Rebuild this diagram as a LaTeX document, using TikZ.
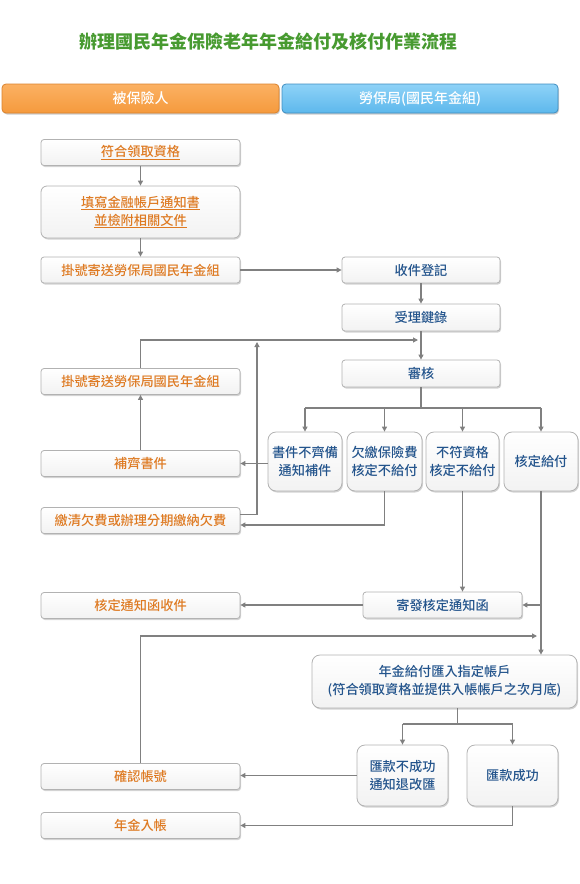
\documentclass[tikz,border=0pt]{standalone}
\usepackage{fontspec}
\setmainfont{Noto Sans CJK TC}
\newfontfamily\medfont{Noto Sans CJK TC Medium}
\usetikzlibrary{arrows.meta,shadows,calc}
\definecolor{otxt}{HTML}{DE7A22}
\definecolor{btxt}{HTML}{23548C}
\definecolor{lgray}{HTML}{808080}
\definecolor{tgreen}{HTML}{479A30}
\definecolor{hotop}{HTML}{FBB163}
\definecolor{hobot}{HTML}{F59A3D}
\definecolor{hoedge}{HTML}{D9822E}
\definecolor{hbtop}{HTML}{8ED2F7}
\definecolor{hbbot}{HTML}{5DB8EC}
\definecolor{hbedge}{HTML}{3F8DC0}
\tikzset{
 box/.style={draw=black!30, line width=0.8pt, rounded corners=3pt, top color=white, bottom color=black!5,
   drop shadow={shadow xshift=1pt, shadow yshift=-1.5pt, opacity=0.35},
   inner sep=0pt, font=\medfont\fontsize{13.2}{18}\selectfont, align=center},
 lbox/.style={box, text=otxt, minimum width=199pt, minimum height=26pt},
 rbox/.style={box, text=btxt},
 cbox/.style={rbox, rounded corners=8pt, minimum height=59pt},
 hdr/.style={rounded corners=4pt, line width=0.8pt, minimum width=277pt, minimum height=29pt, text=white,
   font=\medfont\fontsize{14}{16}\selectfont, drop shadow={shadow xshift=1pt, shadow yshift=-1.5pt, opacity=0.4}},
 conn/.style={draw=lgray, line width=1.1pt},
 arr/.style={conn, -{Triangle[length=5pt,width=5pt]}},
}
\begin{document}
\begin{tikzpicture}[x=1pt,y=-1pt]
\useasboundingbox (0,0) rectangle (580,884);
% title
\node[text=tgreen, font=\fontsize{18}{20}\selectfont\bfseries] (title) at (268,42) {辦理國民年金保險老年年金給付及核付作業流程};
% headers
\node[hdr, draw=hoedge, top color=hotop, bottom color=hobot] (h1) at (140.5,98.5) {被保險人};
\node[hdr, minimum width=276pt, draw=hbedge, top color=hbtop, bottom color=hbbot] (h2) at (420,98.5) {勞保局(國民年金組)};
% left column
\node[lbox] (n1) at (140.5,152.5) {\underline{符合領取資格}};
\node[lbox, minimum height=52pt, rounded corners=6pt] (n2) at (140.5,212) {\underline{填寫金融帳戶通知書}\\\underline{並檢附相關文件}};
\node[lbox] (n3) at (140.5,270) {掛號寄送勞保局國民年金組};
\node[lbox] (n4) at (140.5,381.5) {掛號寄送勞保局國民年金組};
\node[lbox] (n5) at (140.5,463.5) {補齊書件};
\node[lbox] (n6) at (140.5,520.5) {繳清欠費或辦理分期繳納欠費};
\node[lbox] (n7) at (140.5,605.5) {核定通知函收件};
\node[lbox] (n8) at (140.5,776.5) {確認帳號};
\node[lbox] (n9) at (140.5,825.5) {年金入帳};
% right column
\node[rbox, minimum width=158pt, minimum height=26pt] (r1) at (421,270) {收件登記};
\node[rbox, minimum width=158pt, minimum height=27pt] (r2) at (421,317.5) {受理鍵錄};
\node[rbox, minimum width=158pt, minimum height=27pt] (r3) at (421,373.5) {審核};
\node[cbox, minimum width=74pt] (b1) at (305,461.5) {書件不齊備\\通知補件};
\node[cbox, minimum width=75pt] (b2) at (384.5,461.5) {欠繳保險費\\核定不給付};
\node[cbox, minimum width=73pt] (b3) at (462.5,461.5) {不符資格\\核定不給付};
\node[cbox, minimum width=74pt] (b4) at (541,461.5) {核定給付};
\node[rbox, minimum width=159pt, minimum height=26pt] (r4) at (442.5,605) {寄發核定通知函};
\node[rbox, rounded corners=8pt, minimum width=265pt, minimum height=53pt] (r5) at (444.5,681.5) {年金給付匯入指定帳戶\\(符合領取資格並提供入帳帳戶之次月底)};
\node[cbox, minimum width=91pt, minimum height=61pt] (r6) at (402.5,775.5) {匯款不成功\\通知退改匯};
\node[cbox, minimum width=91pt, minimum height=61pt] (r7) at (512.5,775.5) {匯款成功};
% helper coordinates
\coordinate (j1) at (418,340);
\coordinate (j2) at (257,342);
\coordinate (j4) at (537,636);
\coordinate (hb) at (0,408);
\coordinate (hb2) at (0,724);
% connectors
\draw[arr] (n1) -- (n2);
\draw[arr] (n2) -- (n3);
\draw[arr] (n3) -- (r1);
\draw[arr] (r1) -- (r2);
\draw[arr] (r2) -- (r3);
\draw[arr] (n4.north) |- (j1);
\draw[arr] ([yshift=6pt]n6.east) -| (j2);
\draw[arr] (b2.south) |- ([yshift=-4.5pt]n6.east);
\draw[arr] (b1.west |- n5) -- (n5.east);
\draw[arr] (n5) -- (n4);
\draw[conn] (r3.south) -- (r3.south |- hb);
\draw[conn] (b1.north |- hb) -- (b4.north |- hb);
\foreach \b in {b1,b2,b3,b4} \draw[arr] (\b.north |- hb) -- (\b.north);
\draw[arr] (b3.south) -- (b3.south |- r4.north);
\draw[arr] (b4.south) -- (b4.south |- r5.north);
\draw[arr] (b4.south |- r4.east) -- (r4.east);
\draw[arr] (r4.west) -- (r4.west -| n7.east);
\draw[arr] (n8.north) |- (j4);
\coordinate (mid) at ($(r6.north)!0.5!(r7.north)$);
\draw[conn] (mid |- r5.south) -- (mid |- hb2);
\draw[conn] (r6.north |- hb2) -- (r7.north |- hb2);
\draw[arr] (r6.north |- hb2) -- (r6.north);
\draw[arr] (r7.north |- hb2) -- (r7.north);
\draw[arr] (r6.west) -- (r6.west -| n8.east);
\draw[arr] (r7.south) |- (n9.east);
\end{tikzpicture}
\end{document}
